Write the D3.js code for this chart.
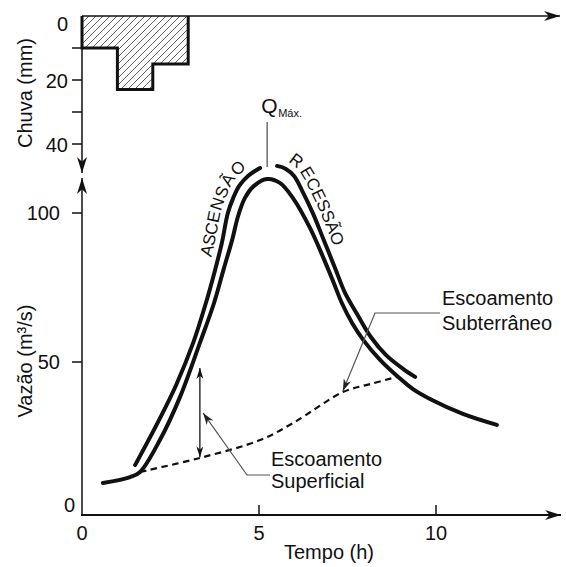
<!DOCTYPE html>
<html>
<head>
<meta charset="utf-8">
<script src="https://cdn.jsdelivr.net/npm/d3@7"></script>
<style>
  body { margin: 0; background: #fff; }
  text { font-family: "Liberation Sans", Arial, sans-serif; fill: #111; }
</style>
</head>
<body>
<script>
// rain (hyetograph), one bar per hour
const rainStart = [0, 1, 2];
const rainDepth = [10, 23, 15];

// total hydrograph
const hydroTime = [0.59, 1.36, 1.64, 2.2, 2.77, 3.33, 3.73, 4.01, 4.24, 4.41, 4.6, 4.86, 5.23, 5.59, 5.96, 6.44, 6.81, 7.09, 7.34, 7.63, 7.97, 8.42, 8.9, 9.35, 9.83, 10.76, 11.72];
const hydroQ = [9.4, 11.4, 13.1, 23.8, 38.3, 56.4, 69.8, 81.5, 90.9, 99.0, 105.0, 109.1, 111.4, 110.1, 105.0, 95.0, 85.2, 77.2, 69.8, 63.1, 57.0, 50.7, 45.3, 40.9, 37.6, 32.6, 28.9];

// outer guide line along the rising limb
const riseTime = [1.5, 2.15, 2.66, 3.14, 3.5, 3.76, 3.95, 4.12, 4.27, 4.44, 4.69, 5.03];
const riseQ = [15.4, 29.9, 42.3, 56.4, 69.8, 80.9, 89.9, 100.0, 105.0, 109.1, 112.4, 115.1];

// outer guide line along the recession limb
const fallTime = [5.51, 5.76, 5.99, 6.21, 6.53, 6.84, 7.15, 7.43, 7.77, 8.16, 8.59, 9.07, 9.41];
const fallQ = [115.8, 114.8, 112.4, 107.7, 99.7, 90.6, 81.5, 73.2, 66.1, 58.4, 52.3, 47.7, 45.0];

// base flow (dashed)
const baseTime = [1.64, 3.33, 5.03, 5.96, 7.37, 8.14, 8.9];
const baseQ = [13.1, 17.8, 23.8, 29.5, 39.9, 42.6, 45.0];

const timeTicks = [0, 5, 10];
const flowTicks = [0, 50, 100];
const rainTicks = [0, 20, 40];
const rainMinor = [10, 30];

const width = 566, height = 567;

const x = d3.scaleLinear().domain([0, 10]).range([82, 436]);
const yQ = d3.scaleLinear().domain([0, 100]).range([511, 213]);
const yR = d3.scaleLinear().domain([0, 40]).range([16, 144]);
const axisY = 515;

const svg = d3.select('body').append('svg')
  .attr('width', width)
  .attr('height', height);

const defs = svg.append('defs');

defs.append('pattern')
  .attr('id', 'hatch')
  .attr('patternUnits', 'userSpaceOnUse')
  .attr('width', 7)
  .attr('height', 7)
  .append('path')
  .attr('d', 'M-1,1 l2,-2 M0,7 l7,-7 M6,8 l2,-2')
  .attr('stroke', '#333')
  .attr('stroke-width', 0.8);

function marker(id, len, half, color) {
  defs.append('marker')
    .attr('id', id)
    .attr('markerUnits', 'userSpaceOnUse')
    .attr('viewBox', `${-len} ${-half} ${len} ${half * 2}`)
    .attr('refX', 0)
    .attr('refY', 0)
    .attr('markerWidth', len)
    .attr('markerHeight', half * 2)
    .attr('orient', 'auto-start-reverse')
    .append('path')
    .attr('d', `M0,0 L${-len},${-half} L${-len * 0.7},0 L${-len},${half} Z`)
    .attr('fill', color);
}
marker('axisHead', 16, 5, '#111');
marker('smallHead', 11, 3.5, '#111');
marker('greyHead', 12, 4, '#222');

// ---- hyetograph
const rain = rainStart.map((t, i) => ({t: t, d: rainDepth[i]}));

svg.selectAll('.bar')
  .data(rain)
  .enter()
  .append('rect')
  .attr('class', 'bar')
  .attr('x', d => x(d.t))
  .attr('y', yR(0))
  .attr('width', d => x(d.t + 1) - x(d.t))
  .attr('height', d => yR(d.d) - yR(0))
  .attr('fill', 'url(#hatch)');

let outline = [[x(rain[0].t), yR(0)]];
rain.forEach(d => {
  outline.push([x(d.t), yR(d.d)]);
  outline.push([x(d.t + 1), yR(d.d)]);
});
outline.push([x(rain[rain.length - 1].t + 1), yR(0)]);

svg.append('path')
  .attr('d', d3.line()(outline))
  .attr('fill', 'none')
  .attr('stroke', '#111')
  .attr('stroke-width', 3)
  .attr('stroke-linejoin', 'miter');

// top axis (time, for rain)
svg.append('line')
  .attr('x1', x(0)).attr('y1', yR(0))
  .attr('x2', 560).attr('y2', yR(0))
  .attr('stroke', '#111').attr('stroke-width', 1.5)
  .attr('marker-end', 'url(#axisHead)');

// rain axis, pointing down
svg.append('line')
  .attr('x1', x(0)).attr('y1', yR(0))
  .attr('x2', x(0)).attr('y2', 173)
  .attr('stroke', '#111').attr('stroke-width', 1.5)
  .attr('marker-end', 'url(#axisHead)');

svg.selectAll('.rtick')
  .data(rainTicks.filter(v => v > 0).concat(rainMinor))
  .enter()
  .append('line')
  .attr('x1', x(0) - 10).attr('x2', x(0))
  .attr('y1', d => yR(d)).attr('y2', d => yR(d))
  .attr('stroke', '#111').attr('stroke-width', 1.5);

svg.selectAll('.rlabel')
  .data(rainTicks)
  .enter()
  .append('text')
  .attr('x', 68)
  .attr('y', d => yR(d) + (d === 0 ? 8 : 1))
  .attr('dy', '0.35em')
  .attr('text-anchor', 'end')
  .attr('font-size', 20)
  .text(d => d);

svg.append('text')
  .attr('transform', 'translate(32,93) rotate(-90)')
  .attr('text-anchor', 'middle')
  .attr('font-size', 20)
  .text('Chuva (mm)');

// ---- flow axes
svg.append('line')
  .attr('x1', x(0)).attr('y1', axisY)
  .attr('x2', x(0)).attr('y2', 178)
  .attr('stroke', '#111').attr('stroke-width', 1.5)
  .attr('marker-end', 'url(#axisHead)');

svg.append('line')
  .attr('x1', x(0) - 1).attr('y1', axisY)
  .attr('x2', 561).attr('y2', axisY)
  .attr('stroke', '#111').attr('stroke-width', 2)
  .attr('marker-end', 'url(#axisHead)');

svg.selectAll('.qtick')
  .data(flowTicks.filter(v => v > 0))
  .enter()
  .append('line')
  .attr('x1', x(0) - 10).attr('x2', x(0))
  .attr('y1', d => yQ(d)).attr('y2', d => yQ(d))
  .attr('stroke', '#111').attr('stroke-width', 1.5);

svg.selectAll('.qlabel')
  .data(flowTicks)
  .enter()
  .append('text')
  .attr('x', d => d === 0 ? 75 : 60)
  .attr('y', d => yQ(d) - (d === 0 ? 6 : 0))
  .attr('dy', '0.35em')
  .attr('text-anchor', 'end')
  .attr('font-size', 20)
  .text(d => d);

svg.append('text')
  .attr('transform', 'translate(32,361) rotate(-90)')
  .attr('text-anchor', 'middle')
  .attr('font-size', 20)
  .text('Vazão (m³/s)');

svg.selectAll('.ttick')
  .data(timeTicks.filter(v => v > 0))
  .enter()
  .append('line')
  .attr('x1', d => x(d)).attr('x2', d => x(d))
  .attr('y1', axisY - 10).attr('y2', axisY)
  .attr('stroke', '#111').attr('stroke-width', 1.5);

svg.selectAll('.tlabel')
  .data(timeTicks)
  .enter()
  .append('text')
  .attr('x', d => x(d))
  .attr('y', 540)
  .attr('text-anchor', 'middle')
  .attr('font-size', 20)
  .text(d => d);

svg.append('text')
  .attr('x', 329)
  .attr('y', 559)
  .attr('text-anchor', 'middle')
  .attr('font-size', 20)
  .text('Tempo (h)');

// ---- curves
const line = d3.line()
  .x(d => x(d[0]))
  .y(d => yQ(d[1]))
  .curve(d3.curveCatmullRom.alpha(0.5));

const zip = (a, b) => a.map((v, i) => [v, b[i]]);

svg.append('path')
  .attr('d', line(zip(baseTime, baseQ)))
  .attr('fill', 'none')
  .attr('stroke', '#111')
  .attr('stroke-width', 2.2)
  .attr('stroke-dasharray', '6.5,4.5');

svg.append('path')
  .attr('d', line(zip(hydroTime, hydroQ)))
  .attr('fill', 'none')
  .attr('stroke', '#111')
  .attr('stroke-width', 4)
  .attr('stroke-linecap', 'round');

svg.append('path')
  .attr('id', 'riseP')
  .attr('d', line(zip(riseTime, riseQ)))
  .attr('fill', 'none')
  .attr('stroke', '#111')
  .attr('stroke-width', 4)
  .attr('stroke-linecap', 'round');

svg.append('path')
  .attr('id', 'fallP')
  .attr('d', line(zip(fallTime, fallQ)))
  .attr('fill', 'none')
  .attr('stroke', '#111')
  .attr('stroke-width', 4)
  .attr('stroke-linecap', 'round');

svg.append('text')
  .attr('font-size', 17)
  .attr('dy', -7)
  .append('textPath')
  .attr('href', '#riseP')
  .attr('startOffset', '97%')
  .attr('text-anchor', 'end')
  .text('ASCENSÃO');

svg.append('text')
  .attr('font-size', 17)
  .attr('dy', -7)
  .append('textPath')
  .attr('href', '#fallP')
  .attr('startOffset', '2.5%')
  .text('RECESSÃO');

// ---- peak marker
const peakIdx = d3.maxIndex(hydroQ);
const peakX = x(hydroTime[peakIdx]);
svg.append('line')
  .attr('x1', peakX).attr('x2', peakX)
  .attr('y1', 122).attr('y2', yQ(hydroQ[peakIdx]) - 12)
  .attr('stroke', '#555').attr('stroke-width', 1.3);

svg.append('text')
  .attr('x', peakX - 6)
  .attr('y', 113)
  .attr('font-size', 21)
  .text('Q');
svg.append('text')
  .attr('x', peakX + 11)
  .attr('y', 117)
  .attr('font-size', 11)
  .text('Máx.');

// ---- surface runoff annotation
const arrowT = 3.33;
svg.append('line')
  .attr('x1', x(arrowT)).attr('x2', x(arrowT))
  .attr('y1', yQ(18)).attr('y2', yQ(48))
  .attr('stroke', '#111').attr('stroke-width', 1.3)
  .attr('marker-start', 'url(#smallHead)')
  .attr('marker-end', 'url(#smallHead)');

svg.append('path')
  .attr('d', d3.line()([[270, 475], [247, 475], [x(3.42), yQ(32.9)]]))
  .attr('fill', 'none')
  .attr('stroke', '#555').attr('stroke-width', 1.2)
  .attr('marker-end', 'url(#greyHead)');

const sup = svg.append('text').attr('font-size', 20);
sup.append('tspan').attr('x', 271).attr('y', 466).text('Escoamento');
sup.append('tspan').attr('x', 271).attr('y', 488).text('Superficial');

// ---- base flow annotation
svg.append('path')
  .attr('d', d3.line()([[440, 313], [375, 313], [x(7.37), yQ(40.3)]]))
  .attr('fill', 'none')
  .attr('stroke', '#555').attr('stroke-width', 1.2)
  .attr('marker-end', 'url(#greyHead)');

const sub = svg.append('text').attr('font-size', 20);
sub.append('tspan').attr('x', 442).attr('y', 305).text('Escoamento');
sub.append('tspan').attr('x', 442).attr('y', 330).text('Subterrâneo');
</script>
</body>
</html>
